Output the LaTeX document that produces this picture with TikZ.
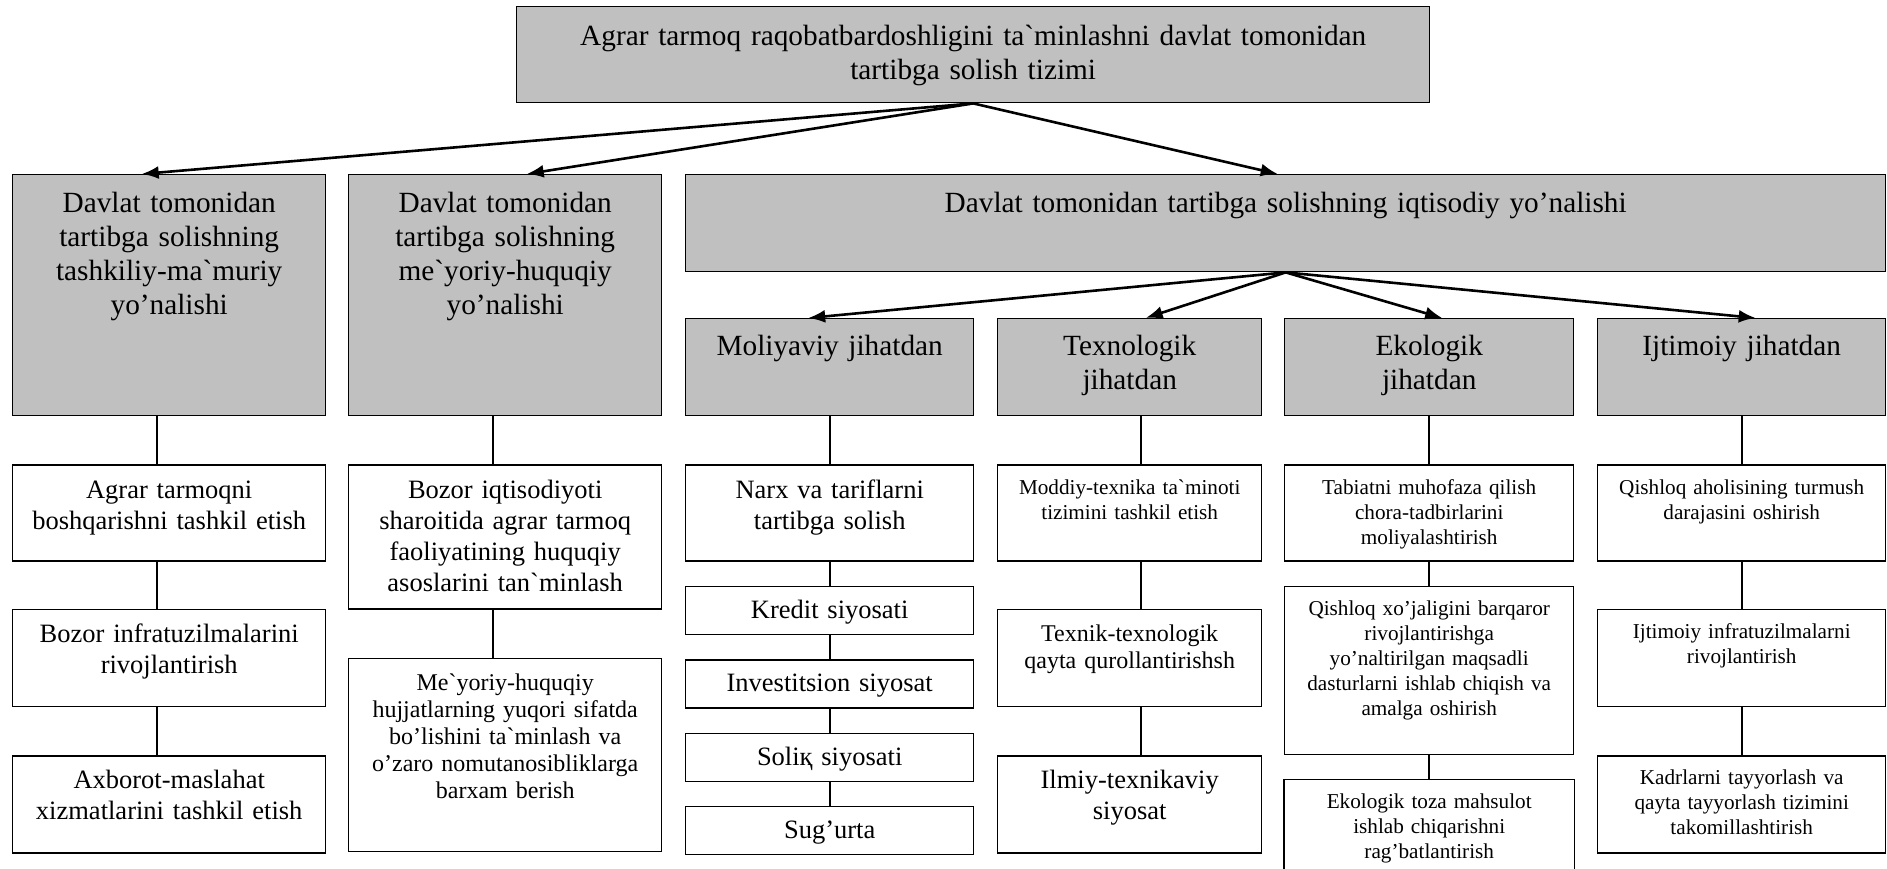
\documentclass[tikz,border=0pt]{standalone}
\usepackage{fontspec}
\newfontfamily\uzfont{Liberation Serif}
\usetikzlibrary{positioning,arrows.meta}
\definecolor{boxgray}{RGB}{192,192,192}

\begin{document}
\begin{tikzpicture}
    [
    x = 1pt, y = -1pt,
    head text/.style = {font = \uzfont\fontsize{29.3}{34}\selectfont},
    big text/.style = {font = \uzfont\fontsize{26.5}{31}\selectfont, text height = 33pt},
    mid text/.style = {font = \uzfont\fontsize{24}{27}\selectfont, text height = 32pt},
    small text/.style = {font = \uzfont\fontsize{21.2}{25}\selectfont, text height = 29pt},
    ]
    \tikzstyle{gray node}=[draw,fill=boxgray,line width=1.4pt,inner sep=0,align=center,head text,anchor=north west]
    \tikzstyle{white node}=[draw,line width=1.4pt,inner sep=0,align=center]
    \tikzstyle{arrow line}=[line width=2.6pt,-{Latex[length=17pt,width=13pt]}]
    \tikzstyle{link line}=[line width=1.6pt]

    \useasboundingbox (0,0) rectangle (1887,869);

    % yuqori blok
    \node[gray node, text width=913pt, text height=39pt, text depth=57pt] (top) at (516,6)
        {Agrar tarmoq raqobatbardoshligini ta`minlashni davlat tomonidan\\tartibga solish tizimi};

    % yo'nalishlar
    \node[gray node, text width=313pt, text height=38pt, text depth=203pt] (adm) at (12,174)
        {Davlat tomonidan\\tartibga solishning\\tashkiliy-ma`muriy\\yo’nalishi};
    \node[gray node, text width=313pt, text height=38pt, text depth=203pt] (law) at (348,174)
        {Davlat tomonidan\\tartibga solishning\\me`yoriy-huquqiy\\yo’nalishi};
    \node[gray node, text width=1200pt, text height=38pt, text depth=59pt] (eco) at (685,174)
        {Davlat tomonidan tartibga solishning iqtisodiy yo’nalishi};

    % iqtisodiy jihatlar
    \node[gray node, text width=288pt, text height=37pt, text depth=60pt] (fin) at (685,318)
        {Moliyaviy jihatdan};
    \node[gray node, text width=264pt, text height=37pt, text depth=60pt] (tech) at (997,318)
        {Texnologik\\jihatdan};
    \node[gray node, text width=289pt, text height=37pt, text depth=60pt] (env) at (1284,318)
        {Ekologik\\jihatdan};
    \node[gray node, text width=288pt, text height=37pt, text depth=60pt] (soc) at (1597,318)
        {Ijtimoiy jihatdan};

    % tashkiliy-ma'muriy
    \node[white node, big text, text width=313pt, text depth=63pt, below=48pt of adm] (adm1)
        {Agrar tarmoqni\\boshqarishni tashkil etish};
    \node[white node, big text, text width=313pt, text depth=64pt, below=47pt of adm1] (adm2)
        {Bozor infratuzilmalarini\\rivojlantirish};
    \node[white node, big text, text width=313pt, text depth=64pt, below=48pt of adm2] (adm3)
        {Axborot-maslahat\\xizmatlarini tashkil etish};

    % me'yoriy-huquqiy
    \node[white node, big text, text width=313pt, text depth=111pt, below=48pt of law] (law1)
        {Bozor iqtisodiyoti\\sharoitida agrar tarmoq\\faoliyatining huquqiy\\asoslarini tan`minlash};
    \node[white node, mid text, text width=313pt, text depth=161pt, below=48pt of law1] (law2)
        {Me`yoriy-huquqiy\\hujjatlarning yuqori sifatda\\bo’lishini ta`minlash va\\o’zaro nomutanosibliklarga\\barxam berish};

    % moliyaviy
    \node[white node, big text, text width=288pt, text depth=63pt, below=48pt of fin] (fin1)
        {Narx va tariflarni\\tartibga solish};
    \node[white node, big text, text width=288pt, text height=32pt, text depth=16pt, below=24pt of fin1] (fin2)
        {Kredit siyosati};
    \node[white node, big text, text width=288pt, text height=32pt, text depth=16pt, below=24pt of fin2] (fin3)
        {Investitsion siyosat};
    \node[white node, big text, text width=288pt, text height=32pt, text depth=16pt, below=24pt of fin3] (fin4)
        {Soliқ siyosati};
    \node[white node, big text, text width=288pt, text height=32pt, text depth=16pt, below=24pt of fin4] (fin5)
        {Sug’urta};

    % texnologik
    \node[white node, small text, text width=264pt, text depth=67pt, below=48pt of tech] (tech1)
        {Moddiy-texnika ta`minoti\\tizimini tashkil etish};
    \node[white node, mid text, text width=264pt, text depth=65pt, below=47pt of tech1] (tech2)
        {Texnik-texnologik\\qayta qurollantirishsh};
    \node[white node, big text, text width=264pt, text depth=64pt, below=48pt of tech2] (tech3)
        {Ilmiy-texnikaviy\\siyosat};

    % ekologik
    \node[white node, small text, text width=289pt, text depth=67pt, below=48pt of env] (env1)
        {Tabiatni muhofaza qilish\\chora-tadbirlarini\\moliyalashtirish};
    \node[white node, small text, text width=289pt, text depth=139pt, below=24pt of env1] (env2)
        {Qishloq xo’jaligini  barqaror\\rivojlantirishga\\yo’naltirilgan maqsadli\\dasturlarni ishlab chiqish va\\amalga oshirish};
    \node[white node, small text, draw=none, text width=289pt, text depth=65pt, below=24pt of env2] (env3)
        {Ekologik toza mahsulot\\ishlab chiqarishni\\rag’batlantirish};
    \draw[line width=1.4pt] (env3.south west) -- (env3.north west) -- (env3.north east) -- (env3.south east);

    % ijtimoiy
    \node[white node, small text, text width=288pt, text depth=67pt, below=48pt of soc] (soc1)
        {Qishloq aholisining turmush\\darajasini oshirish};
    \node[white node, small text, text width=288pt, text depth=68pt, below=47pt of soc1] (soc2)
        {Ijtimoiy infratuzilmalarni\\rivojlantirish};
    \node[white node, small text, text width=288pt, text depth=68pt, below=48pt of soc2] (soc3)
        {Kadrlarni tayyorlash va\\qayta tayyorlash tizimini\\takomillashtirish};

    % strelkalar
    \draw[arrow line] (top.south) -- ([xshift=-27.5pt]adm.north);
    \draw[arrow line] (top.south) -- ([xshift=21.5pt]law.north);
    \draw[arrow line] (top.south) -- ([xshift=-8pt]eco.north);
    \draw[arrow line] (eco.south) -- ([xshift=-21.5pt]fin.north);
    \draw[arrow line] (eco.south) -- ([xshift=16pt]tech.north);
    \draw[arrow line] (eco.south) -- ([xshift=13pt]env.north);
    \draw[arrow line] (eco.south) -- ([xshift=14pt]soc.north);

    % bog'lovchi chiziqlar
    \foreach \a/\b in {adm/adm1,adm1/adm2,adm2/adm3,law/law1,law1/law2}
        \draw[link line] ([xshift=-12.5pt]\a.south) -- ([xshift=-12.5pt]\b.north);
    \foreach \a/\b in {tech/tech1,tech1/tech2,tech2/tech3}
        \draw[link line] ([xshift=11.5pt]\a.south) -- ([xshift=11.5pt]\b.north);
    \foreach \a/\b in {fin/fin1,fin1/fin2,fin2/fin3,fin3/fin4,fin4/fin5,env/env1,env1/env2,env2/env3,soc/soc1,soc1/soc2,soc2/soc3}
        \draw[link line] (\a.south) -- (\b.north);
\end{tikzpicture}
\end{document}
